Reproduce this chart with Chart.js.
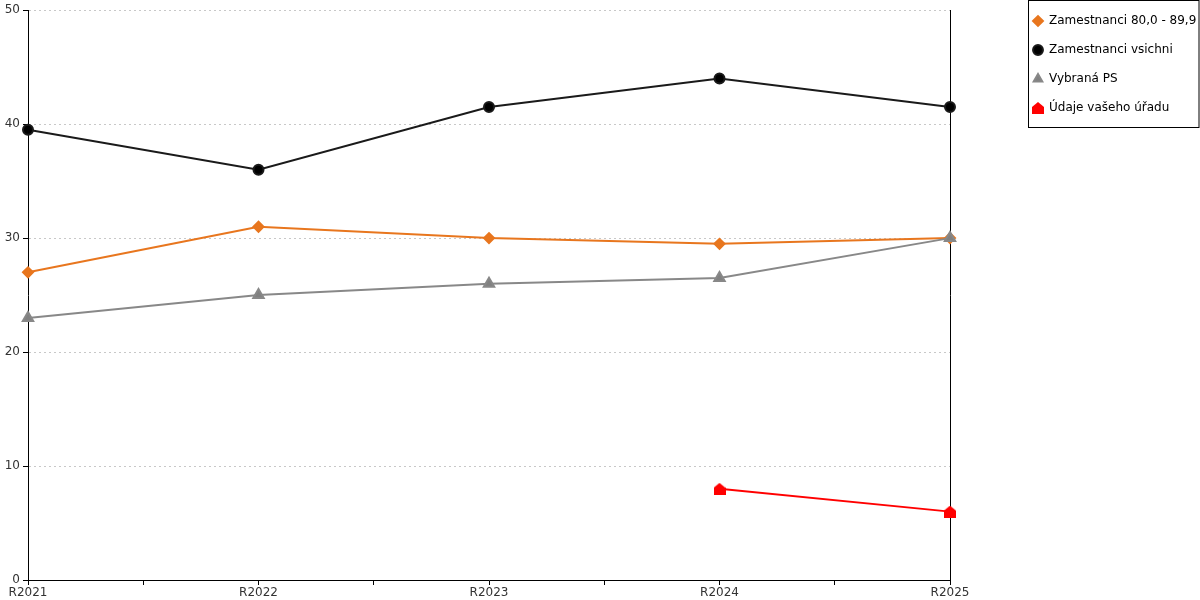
<!DOCTYPE html>
<html>
<head>
<meta charset="utf-8">
<script src="https://cdn.jsdelivr.net/npm/chart.js@4.4.1/dist/chart.umd.min.js"></script>
<style>
  html, body { margin: 0; padding: 0; background: #fff; }
  #wrap { width: 1200px; height: 600px; }
</style>
</head>
<body>
<div id="wrap"><canvas id="myChart" width="1200" height="600"></canvas></div>
<script>
var years = ['R2021', 'R2022', 'R2023', 'R2024', 'R2025']
var yTicks = [0, 10, 20, 30, 40, 50]

var zam8090 = [27, 31, 30, 29.5, 30]
var zamVsichni = [39.5, 36, 41.5, 44, 41.5]
var vybranaPS = [23, 25, 26, 26.5, 30]
var vasUrad = [null, null, null, 8, 6]

// turn a plain list into {x,y} points for the linear x axis
function toPoints(list) {
	var pts = []
	list.forEach(function(v, i) {
		pts.push({ x: i, y: v })
	})
	return pts
}

// little red "house" marker
function houseMarker() {
	var c = document.createElement('canvas')
	c.width = 12
	c.height = 12
	var g = c.getContext('2d')
	g.fillStyle = '#ff0000'
	g.beginPath()
	g.moveTo(6, 0)
	g.lineTo(12, 5)
	g.lineTo(12, 12)
	g.lineTo(0, 12)
	g.lineTo(0, 5)
	g.closePath()
	g.fill()
	return c
}

var LEGEND_SHIFT = 12

// frame around the legend, like the original
var legendFrame = {
	id: 'legendFrame',
	afterInit: function(chart) {
		var lg = chart.legend
		var fit = lg.fit
		lg.fit = function() {
			fit.call(this)
			this.width = 184
		}
		var adjust = lg.adjustHitBoxes
		lg.adjustHitBoxes = function() {
			adjust.call(this)
			;(this.legendHitBoxes || []).forEach(function(b) { b.top -= LEGEND_SHIFT })
		}
		// legend sits at the very top, not under the layout padding
		var draw = lg.draw
		lg.draw = function() {
			this.ctx.save()
			this.ctx.translate(0, -LEGEND_SHIFT)
			draw.call(this)
			this.ctx.restore()
		}
	},
	afterDraw: function(chart) {
		var lg = chart.legend
		var boxes = lg.legendHitBoxes
		if (!boxes || !boxes.length) return
		var ctx = chart.ctx
		var left = Math.round(boxes[0].left - 5) + 0.5
		var last = boxes[boxes.length - 1]
		var bottom = Math.round(last.top + last.height + 13) + 0.5
		ctx.save()
		ctx.strokeStyle = '#000'
		ctx.lineWidth = 1
		ctx.strokeRect(left, 0.5, chart.width - 1 - left, bottom - 0.5)
		ctx.restore()
	}
}

Chart.defaults.font.family = '"DejaVu Sans", Verdana, sans-serif'
Chart.defaults.font.size = 12
Chart.defaults.color = '#333'

var ctx = document.getElementById('myChart').getContext('2d')
var chart = new Chart(ctx, {
	type: 'line',
	data: {
		datasets: [
			{
				label: 'Zamestnanci 80,0 - 89,9',
				data: toPoints(zam8090),
				borderColor: '#e8761e',
				backgroundColor: '#e8761e',
				borderWidth: 2,
				pointStyle: 'rectRot',
				pointRadius: 5,
				clip: false,
				order: 3
			},
			{
				label: 'Zamestnanci vsichni',
				data: toPoints(zamVsichni),
				borderColor: '#1a1a1a',
				backgroundColor: '#000',
				borderWidth: 2,
				pointStyle: 'circle',
				pointRadius: 5,
				clip: false,
				order: 2
			},
			{
				label: 'Vybraná PS',
				data: toPoints(vybranaPS),
				borderColor: '#888',
				backgroundColor: '#808080',
				borderWidth: 2,
				pointStyle: 'triangle',
				pointRadius: 6,
				clip: false,
				order: 1
			},
			{
				label: 'Údaje vašeho úřadu',
				data: toPoints(vasUrad),
				borderColor: '#ff0000',
				backgroundColor: '#ff0000',
				borderWidth: 2,
				pointStyle: houseMarker(),
				clip: false,
				order: 0
			}
		]
	},
	options: {
		responsive: false,
		animation: false,
		layout: { padding: { top: 10, left: 0, right: 0, bottom: 0 } },
		plugins: {
			tooltip: { enabled: false },
			legend: {
				position: 'right',
				align: 'start',
				labels: {
					usePointStyle: true,
					boxWidth: 10,
					boxHeight: 7,
					padding: 17,
					color: '#000',
					font: { size: 12 },
					sort: function(a, b) { return a.datasetIndex - b.datasetIndex }
				}
			}
		},
		scales: {
			x: {
				type: 'linear',
				min: 0,
				max: years.length - 1,
				afterFit: function(s) { s.height = 20 },
				ticks: {
					stepSize: 0.5,
					autoSkip: false,
					maxRotation: 0,
					padding: 1,
					color: '#333',
					callback: function(v) {
						return Number.isInteger(v) ? years[v] : ''
					}
				},
				grid: {
					drawOnChartArea: false,
					drawTicks: true,
					tickLength: 5,
					tickColor: '#000'
				},
				border: { display: true, color: '#000', width: 1 }
			},
			y: {
				min: yTicks[0],
				max: yTicks[yTicks.length - 1],
				afterFit: function(s) { s.width = 28 },
				afterBuildTicks: function(s) {
					s.ticks = yTicks.map(function(v) { return { value: v } })
				},
				ticks: { padding: 3, color: '#333' },
				grid: {
					color: '#c8c8c8',
					tickColor: '#000',
					tickLength: 5,
					drawTicks: true
				},
				border: { display: true, color: '#000', width: 1, dash: [2, 3] }
			},
			yRight: {
				position: 'right',
				display: true,
				min: yTicks[0],
				max: yTicks[yTicks.length - 1],
				afterFit: function(s) { s.width = 66 },
				ticks: { display: false },
				grid: { display: false },
				border: { display: true, color: '#000', width: 1 }
			}
		}
	},
	plugins: [legendFrame]
})
</script>
</body>
</html>
